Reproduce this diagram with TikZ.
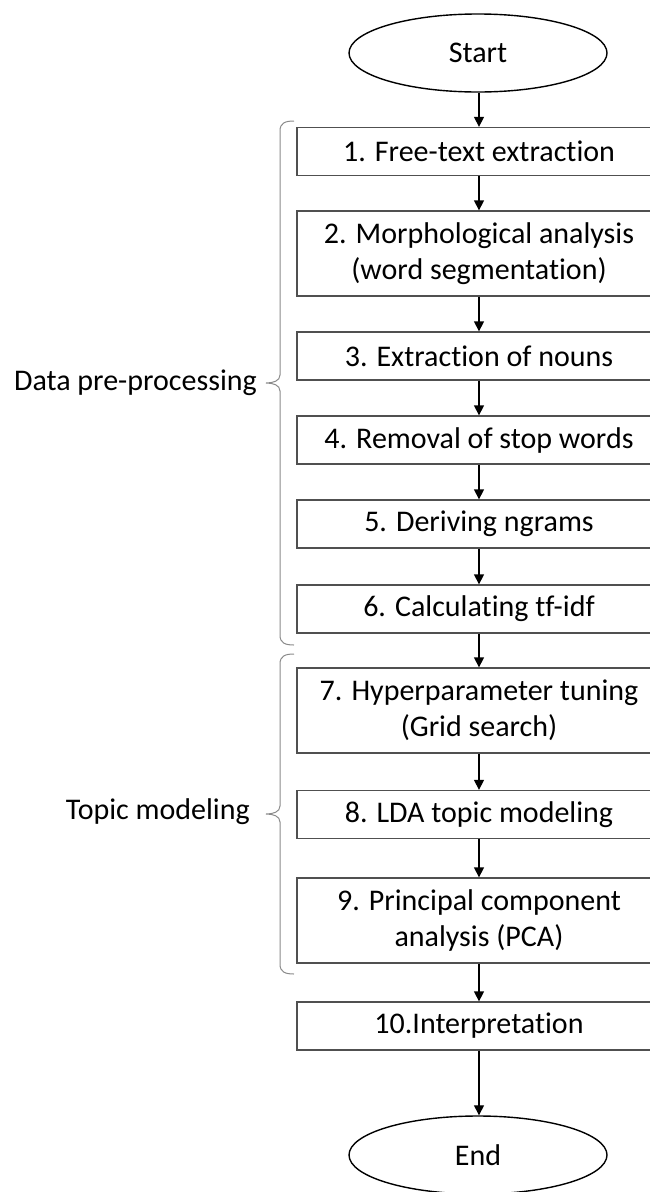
\documentclass[tikz,border=0pt]{standalone}
\usepackage{fontspec}
\setmainfont{Carlito}[Ligatures=CommonOff]
\usetikzlibrary{arrows.meta,shapes.geometric}
\definecolor{boxline}{HTML}{505050}
\definecolor{braceline}{HTML}{8A8A8A}
\tikzset{
  stepbox/.style={draw=boxline, line width=1.3pt, rectangle, minimum width=364pt, inner sep=0pt, align=center, font=\fontsize{30}{36}\selectfont},
  onebox/.style={stepbox, minimum height=48pt},
  twobox/.style={stepbox, minimum height=85pt},
  termnode/.style={draw=black, line width=1.4pt, ellipse, minimum width=258pt, minimum height=78pt, inner sep=0pt, font=\fontsize{30}{36}\selectfont},
  flow/.style={draw=black, line width=1.3pt, -{Triangle[length=10pt, width=10pt]}},
  bracepath/.style={draw=braceline, line width=1pt},
  grouplabel/.style={anchor=east, inner sep=0pt, font=\fontsize{30}{36}\selectfont}
}
\begin{document}
\begin{tikzpicture}[x=1pt, y=-1pt]
\useasboundingbox (0,0) rectangle (649,1192);
\node[termnode] (start) at (478,53) {Start};
\node[onebox] (s1) at (479,151.5) {1. Free-text extraction};
\node[twobox] (s2) at (479,253.5) {2. Morphological analysis\\(word segmentation)};
\node[onebox] (s3) at (479,356) {3. Extraction of nouns};
\node[onebox] (s4) at (479,440) {4. Removal of stop words};
\node[onebox] (s5) at (479,524) {5. Deriving ngrams};
\node[onebox] (s6) at (479,609) {6. Calculating tf-idf};
\node[twobox] (s7) at (479,710.5) {7. Hyperparameter tuning\\(Grid search)};
\node[onebox] (s8) at (479,814.5) {8. LDA topic modeling};
\node[twobox] (s9) at (479,920.5) {9. Principal component\\analysis (PCA)};
\node[onebox] (s10) at (479,1026) {10.Interpretation};
\node[termnode] (end) at (478,1155) {End};

\draw[flow] (start.south -| s1.north) -- (s1.north);
\draw[flow] (s1) -- (s2);
\draw[flow] (s2) -- (s3);
\draw[flow] (s3) -- (s4);
\draw[flow] (s4) -- (s5);
\draw[flow] (s5) -- (s6);
\draw[flow] (s6) -- (s7);
\draw[flow] (s7) -- (s8);
\draw[flow] (s8) -- (s9);
\draw[flow] (s9) -- (s10);
\draw[flow] (s10.south) -- (s10.south |- end.north);

% braces
\draw[bracepath] (294,121) .. controls (285,121) and (280,123) .. (280,131)
  -- (280,375) .. controls (280,381) and (273,383) .. (266,383)
  .. controls (273,383) and (280,385) .. (280,391)
  -- (280,635) .. controls (280,643) and (285,645) .. (294,645);
\draw[bracepath] (294,654) .. controls (285,654) and (280,656) .. (280,664)
  -- (280,806) .. controls (280,812) and (273,814) .. (266,814)
  .. controls (273,814) and (280,816) .. (280,822)
  -- (280,964) .. controls (280,972) and (285,974) .. (294,974);

\node[grouplabel] (lab1) at (257,383) {Data pre-processing};
\node[grouplabel] (lab2) at (250,812) {Topic modeling};
\end{tikzpicture}
\end{document}
